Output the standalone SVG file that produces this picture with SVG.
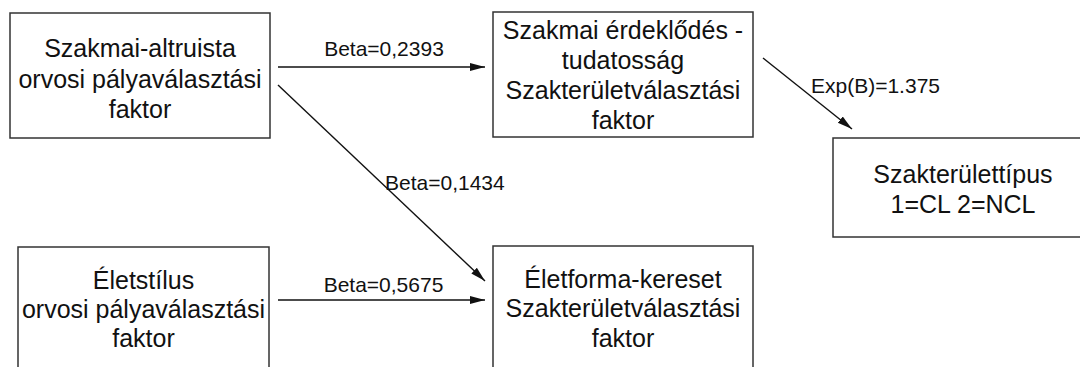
<svg xmlns="http://www.w3.org/2000/svg" width="1080" height="367" viewBox="0 0 1080 367">
  <style>
    .box { fill: #ffffff; stroke: #333333; stroke-width: 1.5; }
    .node text { font-family: "Liberation Sans", Arial, sans-serif; font-size: 25px; fill: #111111; text-anchor: middle; }
    .edge { stroke: #111111; stroke-width: 1.4; fill: none; marker-end: url(#arrow); }
    .lbl { font-family: "Liberation Sans", Arial, sans-serif; font-size: 21px; fill: #111111; }
  </style>
  <defs>
    <marker id="arrow" markerUnits="userSpaceOnUse" markerWidth="16" markerHeight="10" refX="15" refY="4" orient="auto">
      <path d="M0,0 L15,4 L0,8 z" fill="#111111"/>
    </marker>
  </defs>
  <rect width="1080" height="367" fill="#ffffff"/>

  <g id="altruista" class="node">
    <rect class="box" x="10" y="13" width="260" height="125"/>
    <text x="140" y="57">Szakmai-altruista</text>
    <text x="140" y="87.5">orvosi pályaválasztási</text>
    <text x="140" y="118">faktor</text>
  </g>

  <g id="erdeklodes" class="node">
    <rect class="box" x="493" y="12" width="260" height="125"/>
    <text x="623" y="39">Szakmai érdeklődés -</text>
    <text x="623" y="69">tudatosság</text>
    <text x="623" y="99">Szakterületválasztási</text>
    <text x="623" y="129">faktor</text>
  </g>

  <g id="tipus" class="node">
    <rect class="box" x="833" y="138" width="260" height="99"/>
    <text x="963" y="183">Szakterülettípus</text>
    <text x="963" y="213">1=CL 2=NCL</text>
  </g>

  <g id="eletstilus" class="node">
    <rect class="box" x="18" y="247" width="251" height="130"/>
    <text x="143.5" y="289">Életstílus</text>
    <text x="143.5" y="318">orvosi pályaválasztási</text>
    <text x="143.5" y="347">faktor</text>
  </g>

  <g id="eletforma" class="node">
    <rect class="box" x="493" y="246" width="260" height="130"/>
    <text x="623" y="288">Életforma-kereset</text>
    <text x="623" y="317">Szakterületválasztási</text>
    <text x="623" y="347">faktor</text>
  </g>

  <g id="connectors">
    <line class="edge" x1="278" y1="67" x2="485" y2="67"/>
    <text class="lbl" x="384" y="56" text-anchor="middle">Beta=0,2393</text>

    <line class="edge" x1="278" y1="85" x2="485" y2="281"/>
    <text class="lbl" x="385" y="190">Beta=0,1434</text>

    <line class="edge" x1="278" y1="300" x2="485" y2="300"/>
    <text class="lbl" x="383.5" y="292" text-anchor="middle">Beta=0,5675</text>

    <line class="edge" x1="763" y1="58" x2="852" y2="129"/>
    <text class="lbl" x="811" y="93">Exp(B)=1.375</text>
  </g>
</svg>
